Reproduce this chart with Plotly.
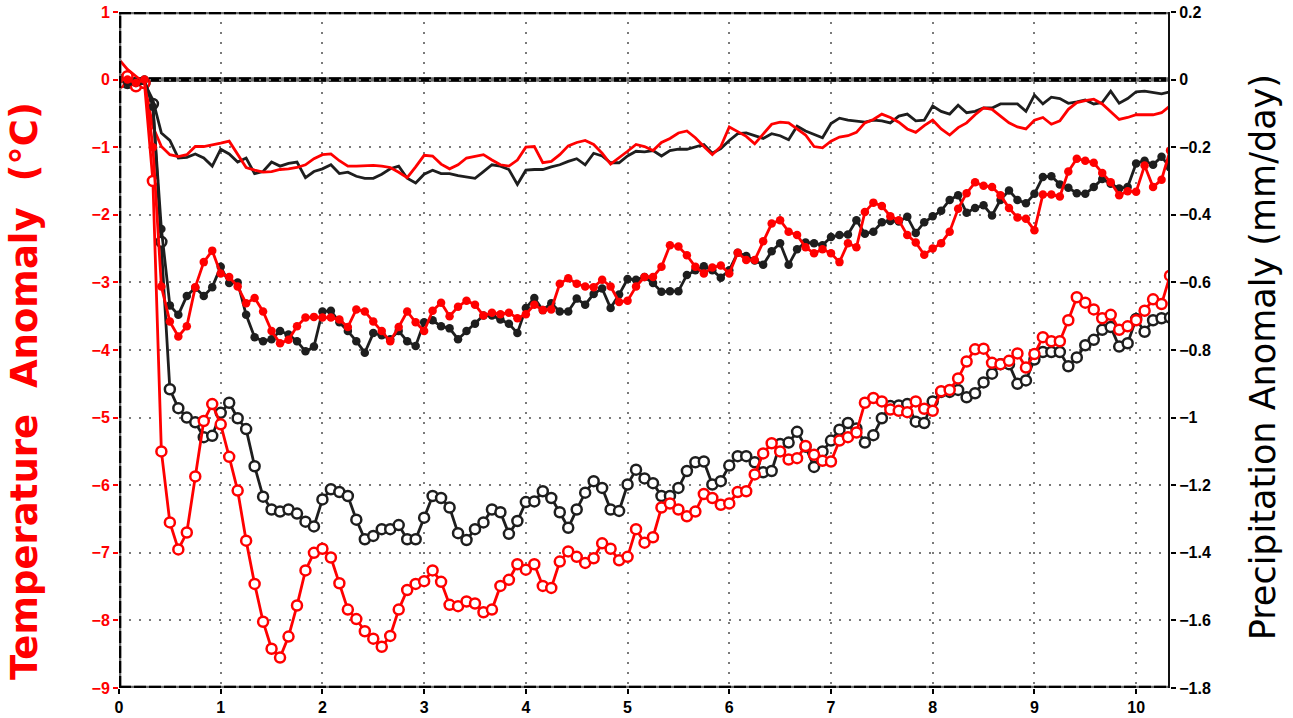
import plotly.graph_objects as go

# ---------------- data (monthly, 125 months) ----------------
n_months = 125
years = [m / 12 for m in range(n_months)]

# Temperature anomaly (deg C), left axis
temp_red_open = [
    -0.05, 0.05, -0.1, -0.05, -1.5, -5.5, -6.55, -6.95, -6.7, -5.87,
    -5.05, -4.8, -5.1, -5.58, -6.08, -6.82, -7.46, -8.02, -8.42, -8.55,
    -8.24, -7.78, -7.26, -7.0, -6.94, -7.07, -7.45, -7.84, -7.98, -8.16,
    -8.27, -8.39, -8.23, -7.84, -7.55, -7.46, -7.42, -7.26, -7.43, -7.77,
    -7.79, -7.72, -7.75, -7.88, -7.84, -7.49, -7.4, -7.17, -7.25, -7.17,
    -7.49, -7.52, -7.13, -6.98, -7.06, -7.15, -7.08, -6.86, -6.94, -7.11,
    -7.06, -6.65, -6.85, -6.77, -6.33, -6.27, -6.36, -6.46, -6.39, -6.13,
    -6.19, -6.29, -6.27, -6.1, -6.09, -5.84, -5.53, -5.38, -5.5, -5.62,
    -5.6, -5.42, -5.55, -5.64, -5.65, -5.34, -5.29, -5.22, -4.78, -4.71,
    -4.76, -4.88, -4.9, -4.92, -4.76, -4.87, -4.9, -4.61, -4.59, -4.42,
    -4.17, -3.99, -3.98, -4.19, -4.21, -4.16, -4.05, -4.26, -4.06, -3.81,
    -3.87, -3.87, -3.56, -3.22, -3.3, -3.4, -3.53, -3.48, -3.7, -3.65,
    -3.56, -3.42, -3.25, -3.32, -2.9,
]
temp_black_open = [
    0.0, -0.05, -0.05, -0.05, -0.36, -2.4, -4.58, -4.86, -5.0, -5.07,
    -5.29, -5.27, -4.93, -4.78, -5.01, -5.17, -5.72, -6.17, -6.36, -6.39,
    -6.36, -6.42, -6.54, -6.61, -6.21, -6.06, -6.1, -6.16, -6.51, -6.8,
    -6.75, -6.65, -6.65, -6.59, -6.8, -6.8, -6.48, -6.16, -6.19, -6.33,
    -6.71, -6.81, -6.65, -6.55, -6.36, -6.4, -6.72, -6.53, -6.25, -6.24,
    -6.09, -6.19, -6.4, -6.63, -6.36, -6.11, -5.94, -6.04, -6.36, -6.38,
    -5.99, -5.77, -5.9, -5.97, -6.16, -6.16, -6.04, -5.79, -5.66, -5.65,
    -5.99, -5.94, -5.71, -5.57, -5.57, -5.66, -5.81, -5.79, -5.39, -5.37,
    -5.21, -5.43, -5.73, -5.5, -5.34, -5.18, -5.08, -5.16, -5.37, -5.26,
    -5.01, -4.83, -4.82, -4.8, -5.06, -5.08, -4.76, -4.62, -4.62, -4.59,
    -4.7, -4.64, -4.48, -4.35, -4.21, -4.21, -4.5, -4.45, -4.14, -4.03,
    -4.03, -4.03, -4.24, -4.11, -3.93, -3.85, -3.7, -3.66, -3.95, -3.9,
    -3.54, -3.73, -3.56, -3.53, -3.52,
]

# Precipitation anomaly (mm/day), right axis
precip_red_dots = [
    0.0, 0.0, -0.01, 0.0, -0.2, -0.612, -0.716, -0.76, -0.73, -0.614,
    -0.54, -0.506, -0.574, -0.584, -0.612, -0.662, -0.646, -0.686, -0.744, -0.78,
    -0.77, -0.73, -0.704, -0.702, -0.704, -0.704, -0.71, -0.732, -0.68, -0.686,
    -0.716, -0.744, -0.774, -0.732, -0.686, -0.718, -0.744, -0.684, -0.66, -0.7,
    -0.672, -0.654, -0.666, -0.698, -0.69, -0.694, -0.69, -0.706, -0.694, -0.666,
    -0.682, -0.68, -0.604, -0.588, -0.604, -0.612, -0.614, -0.592, -0.612, -0.658,
    -0.654, -0.612, -0.584, -0.584, -0.554, -0.49, -0.494, -0.52, -0.554, -0.574,
    -0.556, -0.55, -0.574, -0.512, -0.534, -0.534, -0.478, -0.426, -0.416, -0.45,
    -0.46, -0.496, -0.514, -0.502, -0.514, -0.54, -0.484, -0.496, -0.392, -0.364,
    -0.374, -0.404, -0.416, -0.46, -0.482, -0.518, -0.5, -0.484, -0.45, -0.382,
    -0.336, -0.304, -0.314, -0.318, -0.342, -0.38, -0.408, -0.412, -0.446, -0.34,
    -0.34, -0.346, -0.272, -0.234, -0.24, -0.246, -0.276, -0.304, -0.342, -0.33,
    -0.332, -0.254, -0.318, -0.296, -0.21,
]
precip_black_dots = [
    0.0, -0.01, -0.01, 0.0, -0.08, -0.442, -0.668, -0.696, -0.64, -0.616,
    -0.64, -0.614, -0.554, -0.602, -0.6, -0.696, -0.762, -0.774, -0.768, -0.744,
    -0.754, -0.774, -0.804, -0.79, -0.686, -0.684, -0.718, -0.744, -0.774, -0.808,
    -0.75, -0.756, -0.768, -0.744, -0.774, -0.788, -0.718, -0.712, -0.73, -0.736,
    -0.768, -0.744, -0.722, -0.698, -0.698, -0.71, -0.722, -0.75, -0.676, -0.646,
    -0.682, -0.662, -0.686, -0.686, -0.648, -0.666, -0.634, -0.618, -0.676, -0.636,
    -0.59, -0.592, -0.584, -0.602, -0.628, -0.626, -0.626, -0.578, -0.564, -0.552,
    -0.564, -0.586, -0.564, -0.512, -0.522, -0.535, -0.548, -0.508, -0.484, -0.548,
    -0.502, -0.482, -0.484, -0.49, -0.466, -0.46, -0.458, -0.416, -0.456, -0.45,
    -0.422, -0.418, -0.42, -0.406, -0.454, -0.422, -0.404, -0.388, -0.356, -0.342,
    -0.394, -0.38, -0.372, -0.402, -0.356, -0.328, -0.356, -0.366, -0.338, -0.288,
    -0.286, -0.31, -0.32, -0.336, -0.338, -0.318, -0.294, -0.308, -0.322, -0.318,
    -0.248, -0.24, -0.252, -0.228, -0.26,
]
precip_red_line = [
    0.06, 0.03, 0.01, -0.01, -0.14, -0.198, -0.222, -0.228, -0.222, -0.198,
    -0.198, -0.194, -0.188, -0.182, -0.222, -0.26, -0.268, -0.274, -0.272, -0.266,
    -0.264, -0.26, -0.252, -0.234, -0.222, -0.22, -0.24, -0.256, -0.256, -0.254,
    -0.254, -0.256, -0.26, -0.274, -0.29, -0.258, -0.224, -0.226, -0.25, -0.264,
    -0.252, -0.232, -0.226, -0.222, -0.238, -0.252, -0.256, -0.238, -0.2, -0.198,
    -0.246, -0.242, -0.222, -0.196, -0.186, -0.18, -0.192, -0.218, -0.25, -0.232,
    -0.212, -0.192, -0.198, -0.21, -0.186, -0.174, -0.158, -0.152, -0.172, -0.198,
    -0.222, -0.198, -0.14, -0.154, -0.168, -0.19, -0.16, -0.132, -0.126, -0.128,
    -0.146, -0.164, -0.198, -0.202, -0.182, -0.17, -0.166, -0.156, -0.128, -0.118,
    -0.102, -0.112, -0.126, -0.146, -0.156, -0.136, -0.12, -0.146, -0.164, -0.142,
    -0.128, -0.104, -0.084, -0.088, -0.108, -0.128, -0.14, -0.146, -0.12, -0.112,
    -0.132, -0.122, -0.088, -0.068, -0.062, -0.058, -0.072, -0.096, -0.118, -0.112,
    -0.104, -0.104, -0.104, -0.098, -0.078,
]
precip_black_line = [
    0.0, -0.01, -0.016, -0.01, -0.06, -0.158, -0.18, -0.232, -0.23, -0.22,
    -0.232, -0.256, -0.206, -0.22, -0.244, -0.232, -0.278, -0.272, -0.244, -0.256,
    -0.248, -0.244, -0.29, -0.272, -0.264, -0.252, -0.278, -0.274, -0.286, -0.292,
    -0.292, -0.28, -0.264, -0.256, -0.292, -0.306, -0.28, -0.268, -0.278, -0.278,
    -0.284, -0.288, -0.292, -0.272, -0.252, -0.256, -0.266, -0.31, -0.268, -0.266,
    -0.266, -0.258, -0.252, -0.242, -0.234, -0.252, -0.218, -0.226, -0.246, -0.246,
    -0.226, -0.212, -0.214, -0.21, -0.226, -0.21, -0.206, -0.206, -0.2, -0.192,
    -0.218, -0.204, -0.18, -0.16, -0.158, -0.166, -0.174, -0.16, -0.166, -0.178,
    -0.138, -0.152, -0.162, -0.172, -0.13, -0.114, -0.12, -0.122, -0.126, -0.12,
    -0.122, -0.128, -0.108, -0.102, -0.122, -0.12, -0.078, -0.094, -0.102, -0.076,
    -0.098, -0.094, -0.084, -0.084, -0.072, -0.072, -0.072, -0.094, -0.046, -0.072,
    -0.052, -0.056, -0.07, -0.066, -0.06, -0.072, -0.068, -0.034, -0.07, -0.056,
    -0.036, -0.034, -0.038, -0.042, -0.036,
]

x_ticks = list(range(0, 11))
temp_ticks = list(range(-9, 2))
precip_ticks = [0.2, 0.0, -0.2, -0.4, -0.6, -0.8, -1.0, -1.2, -1.4, -1.6, -1.8]
precip_tick_text = ["0.2", "0", "\u22120.2", "\u22120.4", "\u22120.6", "\u22120.8", "\u22121",
                    "\u22121.2", "\u22121.4", "\u22121.6", "\u22121.8"]

RED = "#ff0000"
BLACK = "#1e1e1e"
FONT = "Liberation Sans"

fig = go.Figure()


def add(y, color, kind, axis):
    xs = years[:len(y)]
    if kind == "line":
        fig.add_trace(go.Scatter(x=xs, y=y, mode="lines", yaxis=axis,
                                 line=dict(color=color, width=2.8), showlegend=False))
    elif kind == "dots":
        fig.add_trace(go.Scatter(x=xs, y=y, mode="lines+markers", yaxis=axis,
                                 line=dict(color=color, width=2.8),
                                 marker=dict(color=color, size=8.5, line=dict(width=0)),
                                 showlegend=False))
    else:
        fig.add_trace(go.Scatter(x=xs, y=y, mode="lines+markers", yaxis=axis,
                                 line=dict(color=color, width=2.8),
                                 marker=dict(color="white", size=10,
                                             line=dict(color=color, width=2.5)),
                                 showlegend=False))


add(precip_black_line, BLACK, "line", "y2")
add(precip_red_line, RED, "line", "y2")
add(precip_black_dots, BLACK, "dots", "y2")
add(precip_red_dots, RED, "dots", "y2")
add(temp_black_open, BLACK, "open", "y")
add(temp_red_open, RED, "open", "y")

x_end = 10.333

grid = dict(showgrid=True, gridcolor="#7a7a7a", gridwidth=2, griddash="2px,8px")

fig.update_layout(
    width=1293, height=718,
    margin=dict(l=119, r=123, t=12, b=30, autoexpand=False),
    paper_bgcolor="white", plot_bgcolor="white",
    xaxis=dict(range=[0, x_end], tickvals=x_ticks, ticks="outside", ticklen=5,
               tickwidth=2, tickcolor="black", zeroline=False, showline=False,
               automargin=False,
               tickfont=dict(family=FONT, size=16, color="black", weight=700),
               **grid),
    yaxis=dict(range=[-9, 1], tickvals=temp_ticks, ticks="outside", ticklen=5,
               tickwidth=2, tickcolor=RED, zeroline=False, showline=False,
               automargin=False,
               tickfont=dict(family=FONT, size=16, color=RED, weight=700),
               **grid),
    yaxis2=dict(range=[-1.8, 0.2], overlaying="y", side="right",
                tickvals=precip_ticks, ticktext=precip_tick_text,
                ticks="outside", ticklen=5, tickwidth=2, tickcolor="black",
                showgrid=False, zeroline=False, showline=False, automargin=False,
                tickfont=dict(family=FONT, size=16, color="black", weight=700)),
)

# frame and zero line
frame_style = [dict(color="#6a6a6a", width=4.5, dash="solid"),
               dict(color="#000000", width=4.5, dash="12px,3px")]
for st in frame_style:
    for y0 in (1, 0, -9):
        fig.add_shape(type="line", xref="x", yref="y", x0=0, x1=x_end, y0=y0, y1=y0,
                      line=st, layer="above" if y0 != 0 else "below")
    fig.add_shape(type="line", xref="x", yref="y", x0=0, x1=0, y0=-9, y1=1,
                  line=st, layer="above")
fig.add_shape(type="line", xref="x", yref="y", x0=x_end, x1=x_end, y0=-9, y1=1,
              line=dict(color="#111111", width=4), layer="above")

# axis titles
fig.add_annotation(text="Temperature  Anomaly  (\u00b0C)", xref="paper", yref="paper",
                   x=-0.09, y=0.44, textangle=-90, showarrow=False,
                   xanchor="center", yanchor="middle",
                   font=dict(family="DejaVu Sans", size=37, color=RED, weight=700))
fig.add_annotation(text="Precipitation Anomaly (mm/day)", xref="paper", yref="paper",
                   x=1.088, y=0.49, textangle=-90, showarrow=False,
                   xanchor="center", yanchor="middle",
                   font=dict(family="DejaVu Sans", size=35, color="black"))

fig.write_html("out.html")
